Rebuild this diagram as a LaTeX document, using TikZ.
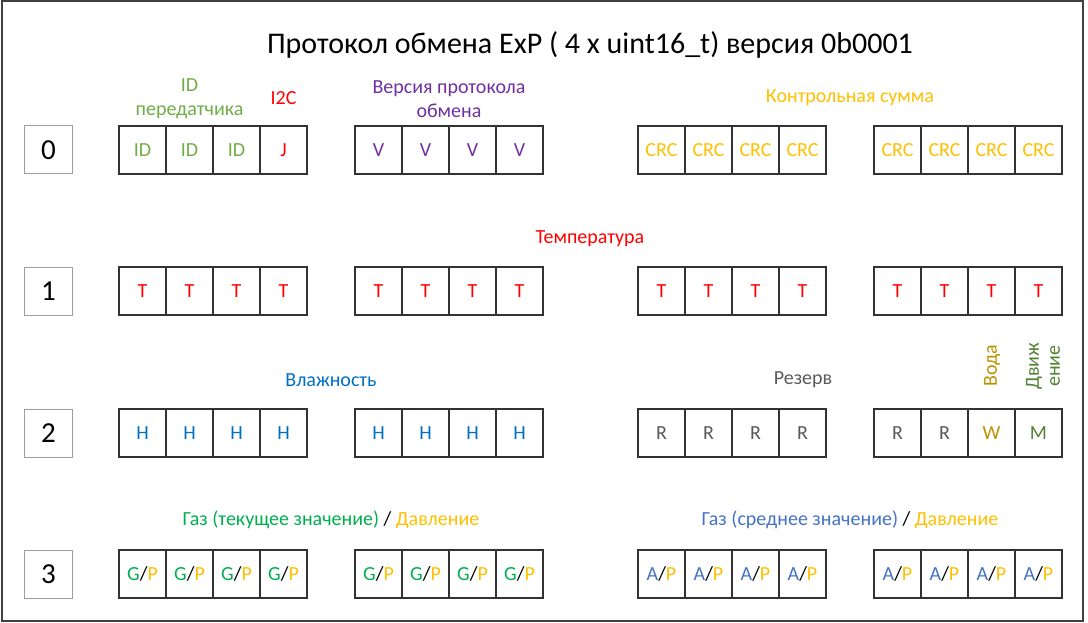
\documentclass[tikz,border=0pt]{standalone}
\usepackage{fontspec}
\setmainfont{Carlito}
\definecolor{cid}{HTML}{70AD47}
\definecolor{cred}{HTML}{FF0000}
\definecolor{cver}{HTML}{7030A0}
\definecolor{ccrc}{HTML}{FFC000}
\definecolor{chum}{HTML}{0070C0}
\definecolor{cres}{HTML}{595959}
\definecolor{cwater}{HTML}{BF9000}
\definecolor{cmove}{HTML}{538135}
\definecolor{cgas}{HTML}{00B050}
\definecolor{cavg}{HTML}{4472C4}
\definecolor{cframe}{HTML}{404040}
\newcommand{\grp}[5]{%
  \foreach \k in {1,...,4} {
    \node[cell,text=#4] (#1c\k) at ({#2+23.5+47*(\k-1)},#3) {#5};
  }}
\begin{document}
\begin{tikzpicture}[x=1pt,y=-1pt,
  cell/.style={draw=black!80,line width=1.2pt,minimum width=47pt,minimum height=48pt,inner sep=0pt,font=\fontsize{20}{24}\selectfont},
  rowlab/.style={draw=black!38,line width=1pt,minimum width=48pt,minimum height=48pt,inner sep=0pt,font=\fontsize{29}{32}\selectfont},
  lab/.style={inner sep=0pt,align=center,font=\fontsize{20}{24}\selectfont}]
\useasboundingbox (0,0) rectangle (1088,623);
\draw[cframe,line width=2pt] (1.5,1.5) rectangle (1083,620.5);
\node[inner sep=0pt,font=\fontsize{30}{34}\selectfont] (title) at (590,45) {Протокол обмена ExP ( 4 x uint16\_t) версия 0b0001};
% row labels
\node[rowlab] (n0) at (48.5,150) {0};
\node[rowlab] (n1) at (48.5,291) {1};
\node[rowlab] (n2) at (48.5,433) {2};
\node[rowlab] (n3) at (48.5,574) {3};
% row 0
\node[cell,text=cid] (a0c1) at (142.5,150) {ID};
\node[cell,text=cid] (a0c2) at (189.5,150) {ID};
\node[cell,text=cid] (a0c3) at (236.5,150) {ID};
\node[cell,text=cred] (a0c4) at (283.5,150) {J};
\grp{b0}{355}{150}{cver}{V}
\grp{c0}{638}{150}{ccrc}{CRC}
\grp{d0}{874}{150}{ccrc}{CRC}
\node[lab,text=cid] (lid) at (189.5,99) {ID\\передатчика};
\node[lab,text=cred] (li2c) at (283.5,98) {I2C};
\node[lab,text=cver] (lver) at (449,99) {Версия протокола\\обмена};
\node[lab,text=ccrc] (lcrc) at (850,98) {Контрольная сумма};
% row 1
\grp{a1}{119}{291}{cred}{T}
\grp{b1}{355}{291}{cred}{T}
\grp{c1}{638}{291}{cred}{T}
\grp{d1}{874}{291}{cred}{T}
\node[lab,text=cred] (ltemp) at (590,239) {Температура};
% row 2
\grp{a2}{119}{433}{chum}{H}
\grp{b2}{355}{433}{chum}{H}
\grp{c2}{638}{433}{cres}{R}
\node[cell,text=cres] (d2c1) at (897.5,433) {R};
\node[cell,text=cres] (d2c2) at (944.5,433) {R};
\node[cell,text=cwater] (d2c3) at (991.5,433) {W};
\node[cell,text=cmove] (d2c4) at (1038.5,433) {M};
\node[lab,text=chum] (lhum) at (331,380) {Влажность};
\node[lab,text=cres] (lres) at (803,380) {Резерв};
\node[lab,text=cwater,rotate=90] (lwater) at (992,366) {Вода};
\node[lab,text=cmove,rotate=90,font=\fontsize{20}{21}\selectfont] (lmove) at (1043,366) {Движ\\ение};
% row 3
\grp{a3}{119}{574}{black}{\textcolor{cgas}{G}/\textcolor{ccrc}{P}}
\grp{b3}{355}{574}{black}{\textcolor{cgas}{G}/\textcolor{ccrc}{P}}
\grp{c3}{638}{574}{black}{\textcolor{cavg}{A}/\textcolor{ccrc}{P}}
\grp{d3}{874}{574}{black}{\textcolor{cavg}{A}/\textcolor{ccrc}{P}}
\node[lab] (lgas) at (331,520) {\textcolor{cgas}{Газ (текущее значение)} / \textcolor{ccrc}{Давление}};
\node[lab] (lavg) at (850,520) {\textcolor{cavg}{Газ (среднее значение)} / \textcolor{ccrc}{Давление}};
\end{tikzpicture}
\end{document}
